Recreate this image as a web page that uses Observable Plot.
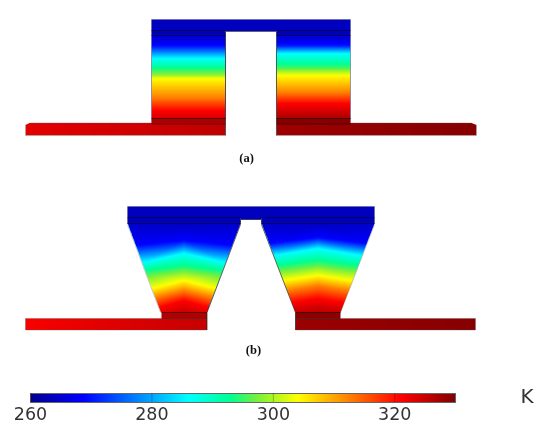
<!DOCTYPE html>
<html><head><meta charset="utf-8">
<style>html,body{margin:0;padding:0;background:#fff;width:550px;height:436px;overflow:hidden}svg{display:block;filter:blur(.45px)}</style>
<script src="https://cdn.jsdelivr.net/npm/d3@7"></script>
<script src="https://cdn.jsdelivr.net/npm/@observablehq/plot@0.6"></script>
</head><body>
<script>
// Colour scale, temperature in K
const colorTemps  = [260, 268.75, 286, 293, 297, 304, 321, 330];
const colorStops  = ["#00008f", "#0000ff", "#00ffff", "#00ff90", "#70f040", "#ffff00", "#ff0000", "#800000"];
const barTicks = [260, 280, 300, 320];

// Panel (a): temperature read along the legs, in image units
const aLegY      = [35, 45, 58, 70, 75, 78, 97, 110, 118];
const aLeftLegT  = [264.5, 269, 286, 295, 299, 304, 312.5, 321, 324];
const aRightLegY = [35, 45, 53, 67, 75, 92, 103, 118];
const aRightLegT = [264.5, 270, 286, 295, 304, 312.5, 321, 327];

// Panel (b): temperature read along the middle and the edges of the legs
const bLeftMidY   = [223, 240, 253, 268, 280, 290, 300, 312];
const bLeftMidT   = [264, 269, 286, 295, 304, 312.5, 321, 325];
const bLeftEdgeY  = [223, 245, 262, 273, 288, 297, 307, 312];
const bLeftEdgeT  = [264.5, 269, 286, 295, 304, 312.5, 321, 323];
const bRightMidY  = [223, 237, 248, 263, 275, 285, 298, 312];
const bRightMidT  = [264, 269, 286, 295, 304, 312.5, 321, 326];
const bRightEdgeY = [223, 243, 255, 268, 280, 290, 302, 312];
const bRightEdgeT = [264.5, 269, 286, 295, 304, 312.5, 321, 325];

// Outlines of uniform blocks: [x, y, temperature]
const blocks = [
  // panel a
  [[151,19,263.5],[350,19,263.5],[350,30.5,264],[151,30.5,264]],
  [[151,30,263],[225,30,263],[225,35.5,264],[151,35.5,264]],
  [[276,30,263],[350,30,263],[350,35.5,264],[276,35.5,264]],
  [[151,117.5,327],[225,117.5,327],[225,123,327],[151,123,327]],
  [[276,117.5,329.5],[350,117.5,329.5],[350,123,329.5],[276,123,329.5]],
  [[25,124.5,323],[29,122.5,323],[225,122.5,325.5],[225,135,325.5],[25,135,323]],
  [[276,122.5,327.8],[471,122.5,329.5],[476,124.5,329.5],[476,135,329.5],[276,135,327.8]],
  // panel b
  [[127,206,263.5],[374,206,263.5],[374,218,264],[127,218,264]],
  [[127,217.5,263],[240,217.5,263],[240,223.5,264],[127,223.5,264]],
  [[261,217.5,263],[374,217.5,263],[374,223.5,264],[261,223.5,264]],
  [[240,217.5,264],[261,217.5,264],[261,219,264],[240,219,264]],
  [[161,311.5,326.5],[206.5,311.5,326.5],[206.5,318,326.5],[161,318,326.5]],
  [[295,311.5,329],[340,311.5,329],[340,318,329],[295,318,329]],
  [[25,318,321.5],[206.5,318,325],[206.5,329.5,325],[25,329.5,321.5]],
  [[295,318,328],[475,318,329.5],[475,329.5,329.5],[295,329.5,328]]
];

// Dark mesh lines and edges: [x1, y1, x2, y2]
const meshLines = [
  [151,30,225,30],[276,30,350,30],[151,35,225,35],[276,35,350,35],[151,118,225,118],[276,118,350,118],[151,123.5,225,123.5],[276,123.5,350,123.5],
  [127,217,240,217],[261,217,374,217],[127,223,240,223],[261,223,374,223],[161,312,206.5,312],[295,312,340,312],[161,318,206.5,318],[295,318,340,318]
];
const edgeLines = [
  [225,31,225,135],[276,31,276,135],[225,31,276,31],
  [240,219,261,219],[240,219,240,224],[261,219,261,224],
  [240,224,206.5,312],[206.5,312,206.5,329.5],[261,224,295,312],[295,312,295,329.5]
];
const softEdges = [
  [151,19,350,19],[151,19,151,123],[350,19,350,123],[25,135,225,135],[276,135,476,135],[25,124,25,135],[476,124,476,135],
  [29,122.5,151,122.5],[350,122.5,471,122.5],
  [127,206,374,206],[127,206,127,223],[374,206,374,223],[127,224,160,312],[374,224,340,312],
  [25,329.5,206.5,329.5],[295,329.5,475,329.5],[25,318,161,318],[340,318,475,318],[25,318,25,329.5],[475,318,475,329.5]
];

const panelLabels = [{x:246,y:157,t:"(a)"},{x:253,y:349,t:"(b)"}];

const color = {type:"linear", domain:colorTemps, range:colorStops, interpolate:"rgb"};

const table = (pts) => pts.map(([x,y,t]) => ({x,y,t}));
const legRows = (ys, ts, xl, xr) => ys.flatMap((y,i) => [[xl,y,ts[i]],[xr,y,ts[i]]]);
const lerp = (y, y0, y1, x0, x1) => x0 + (x1-x0)*(y-y0)/(y1-y0);
function taper(midY, midT, edgeY, edgeT, xTL, xBL, xTR, xBR){
  const out = [];
  const yT = 223, yB = 312;
  midY.forEach((y,i) => out.push([(lerp(y,yT,yB,xTL,xBL)+lerp(y,yT,yB,xTR,xBR))/2, y, midT[i]]));
  edgeY.forEach((y,i) => {
    out.push([lerp(y,yT,yB,xTL,xBL), y, edgeT[i]]);
    out.push([lerp(y,yT,yB,xTR,xBR), y, edgeT[i]]);
  });
  return out;
}
const fields = [
  legRows(aLegY, aLeftLegT, 151, 225),
  legRows(aRightLegY, aRightLegT, 276, 350),
  taper(bLeftMidY, bLeftMidT, bLeftEdgeY, bLeftEdgeT, 127, 160.5, 240, 206.5),
  taper(bRightMidY, bRightMidT, bRightEdgeY, bRightEdgeT, 261, 295, 374, 340),
  ...blocks
];
const rasterOf = pts => Plot.raster(table(pts), {x:"x", y:"y", fill:"t", interpolate:"barycentric"});
const segs = (rows, o) => Plot.link(rows.map(([x1,y1,x2,y2]) => ({x1,y1,x2,y2})), {x1:"x1",y1:"y1",x2:"x2",y2:"y2",...o});

const main = Plot.plot({
  width:550, height:380, margin:0,
  x:{domain:[0,550], range:[0,550], axis:null},
  y:{domain:[0,380], range:[0,380], axis:null},
  color,
  marks:[
    ...fields.map(rasterOf),
    segs(meshLines, {stroke:"#000", strokeOpacity:.5, strokeWidth:1}),
    segs(softEdges, {stroke:"#555", strokeOpacity:.4, strokeWidth:.8}),
    segs(edgeLines, {stroke:"#222", strokeOpacity:.7, strokeWidth:1}),
    Plot.text(panelLabels, {x:"x", y:"y", text:"t", fontFamily:"Liberation Serif", fontWeight:"bold", fontSize:12.5, fill:"#111"})
  ]
});
main.style.background = "#fff";

// Each temperature field only exists inside its solid: clip the raster to the hull of its samples.
const sx = main.scale("x"), sy = main.scale("y");
const svgNS = "http://www.w3.org/2000/svg";
const defs = document.createElementNS(svgNS, "defs");
main.prepend(defs);
main.querySelectorAll("image").forEach((img, i) => {
  const hull = d3.polygonHull(fields[i].map(([x,y]) => [sx.apply(x), sy.apply(y)]));
  const cp = document.createElementNS(svgNS, "clipPath");
  cp.setAttribute("id", "solid-" + i);
  const poly = document.createElementNS(svgNS, "polygon");
  poly.setAttribute("points", hull.map(p => p.join(",")).join(" "));
  cp.append(poly);
  defs.append(cp);
  img.parentNode.setAttribute("clip-path", `url(#solid-${i})`);
});
document.body.append(main);

const bar = Plot.plot({
  width:550, height:56, marginLeft:30, marginRight:95, marginTop:13, marginBottom:34,
  x:{domain:[260,330], axis:null},
  y:{domain:[0,1], axis:null},
  color,
  style:{fontFamily:"DejaVu Sans"},
  marks:[
    Plot.raster({fill:(x,y)=>x, x1:260, x2:330, y1:0, y2:1, width:425, height:2}),
    Plot.frame({stroke:"#666", strokeWidth:1}),
    Plot.ruleX(barTicks, {y1:0, y2:1, stroke:"#000", strokeOpacity:.25}),
    Plot.axisX({ticks:barTicks, tickSize:0, tickPadding:5, fontSize:17.5, fill:"#333", anchor:"bottom", tickFormat:d=>String(d)}),
    Plot.text(["K"], {frameAnchor:"top-right", dx:78, dy:-5, lineAnchor:"top", fontSize:20, fill:"#333"})
  ]
});
bar.style.background = "#fff";
document.body.append(bar);
</script>
</body></html>
